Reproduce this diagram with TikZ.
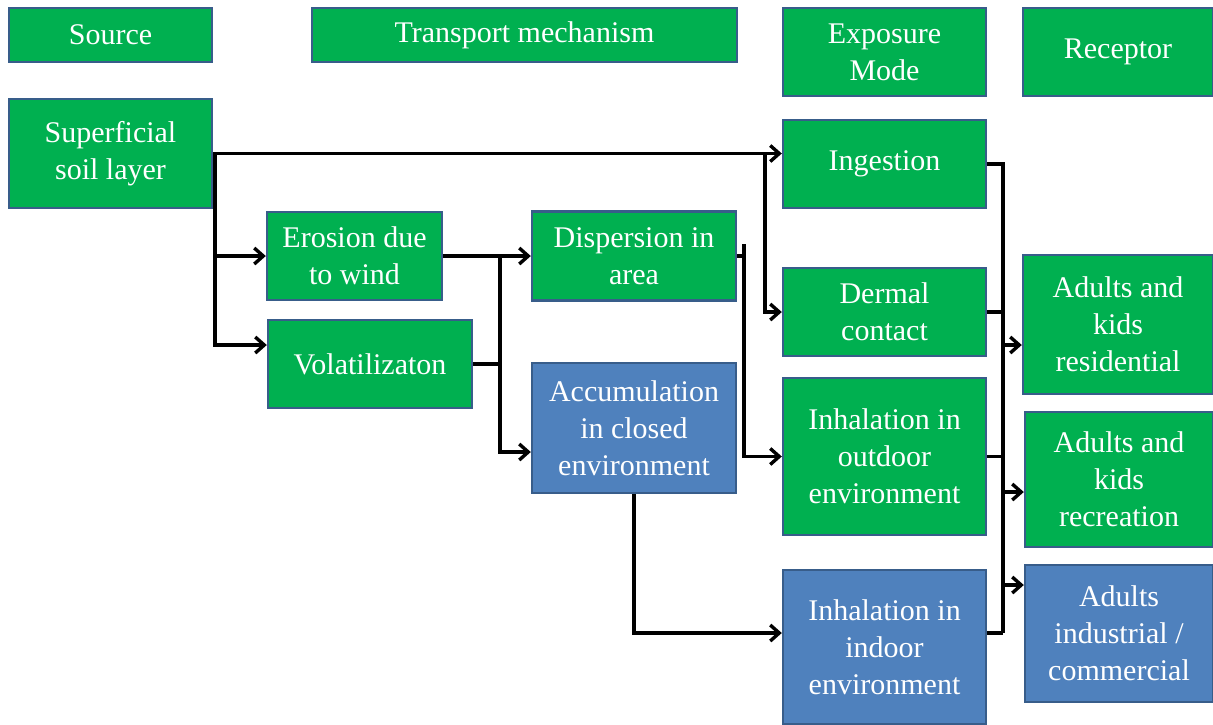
\documentclass[tikz,border=0pt]{standalone}
\usepackage{fontspec}
\setmainfont{Liberation Serif}
\usepackage{xcolor}
\usetikzlibrary{arrows.meta}
\definecolor{boxgreen}{HTML}{00B050}
\definecolor{boxblue}{HTML}{4F81BD}
\definecolor{boxedge}{HTML}{385D8A}

\begin{document}
\begin{tikzpicture}[x=0.5pt, y=-0.5pt,
  greenbox/.style={draw=boxedge, line width=1.2pt, fill=boxgreen, text=white,
    align=center, inner sep=0pt, font=\fontsize{15}{18.5}\selectfont},
  bluebox/.style={greenbox, fill=boxblue},
  link/.style={line width=1.7pt, -{Straight Barb[length=4.5pt, width=8pt]}},
  wire/.style={line width=1.7pt}]
	\useasboundingbox (0,0) rectangle (1213,724);
	% headings
	\node[greenbox, minimum width=101.5pt, minimum height=27pt] (src) at (110.5,35) {Source};
	\node[greenbox, minimum width=212.5pt, minimum height=27pt] (trans) at (524.5,35) {Transport mechanism};
	\node[greenbox, minimum width=101.5pt, minimum height=44pt] (expo) at (884.5,52) {Exposure\\Mode};
	\node[greenbox, minimum width=95pt, minimum height=44pt] (recp) at (1118,52) {Receptor};
	% source and transport
	\node[greenbox, minimum width=101.5pt, minimum height=54.5pt] (soil) at (110.5,153.5) {Superficial\\soil layer};
	\node[greenbox, minimum width=87.5pt, minimum height=44pt] (eros) at (354.5,256) {Erosion due\\to wind};
	\node[greenbox, minimum width=102pt, minimum height=44pt] (vola) at (370,364) {Volatilizaton};
	\node[greenbox, minimum width=102pt, minimum height=44.5pt] (disp) at (634,256) {Dispersion in\\area};
	\node[bluebox, minimum width=102pt, minimum height=65pt] (accu) at (634,428) {Accumulation\\in closed\\environment};
	% exposure
	\node[greenbox, minimum width=101.5pt, minimum height=44pt] (inge) at (884.5,164) {Ingestion};
	\node[greenbox, minimum width=101.5pt, minimum height=44pt] (derm) at (884.5,312) {Dermal\\contact};
	\node[greenbox, minimum width=101.5pt, minimum height=78.5pt] (outd) at (884.5,456.5) {Inhalation in\\outdoor\\environment};
	\node[bluebox, minimum width=101.5pt, minimum height=77pt] (indo) at (884.5,647) {Inhalation in\\indoor\\environment};
	% receptors
	\node[greenbox, minimum width=95pt, minimum height=69.5pt] (resi) at (1118,324.5) {Adults and\\kids\\residential};
	\node[greenbox, minimum width=94pt, minimum height=67.5pt] (recr) at (1119,479.5) {Adults and\\kids\\recreation};
	\node[bluebox, minimum width=94pt, minimum height=68.5pt] (indu) at (1119,633.5) {Adults\\industrial /\\commercial};
	% junctions
	\coordinate (s1) at (215,153.5);
	\coordinate (s2) at (215,345);
	\coordinate (d1) at (765,153.5);
	\coordinate (e1) at (500,256);
	\coordinate (e2) at (500,452);
	\coordinate (f0) at (744,244);
	\coordinate (f1) at (744,256);
	\coordinate (g1) at (634,633);
	\coordinate (b1) at (1003,164);
	\coordinate (b2) at (1003,633);
	\coordinate (r1) at (1003,345);
	\coordinate (r2) at (1003,492);
	\coordinate (r3) at (1003,585);
	% connectors
	\draw[link] (soil.east) -- (inge.west |- soil.east);
	\draw[link] (s1) |- (eros.west);
	\draw[link] (s1) -- (s2) -- (vola.west |- s2);
	\draw[link] (d1) |- (derm.west);
	\draw[link] (eros.east) -- (disp.west);
	\draw[wire] (vola.east) -| (e1);
	\draw[link] (e1) -- (e2) -- (accu.west |- e2);
	\draw[wire] (disp.east) -- (f1);
	\draw[link] (f0) |- (outd.west);
	\draw[link] (accu.south) -- (g1) -- (indo.west |- g1);
	\draw[wire] (inge.east) -- (b1) -- (b2);
	\draw[wire] (derm.east) -- (derm.east -| b1);
	\draw[wire] (outd.east) -- (outd.east -| b1);
	\draw[wire] (indo.east |- b2) -- (b2);
	\draw[link] (r1) -- (resi.west |- r1);
	\draw[link] (r2) -- (recr.west |- r2);
	\draw[link] (r3) -- (indu.west |- r3);
\end{tikzpicture}
\end{document}
